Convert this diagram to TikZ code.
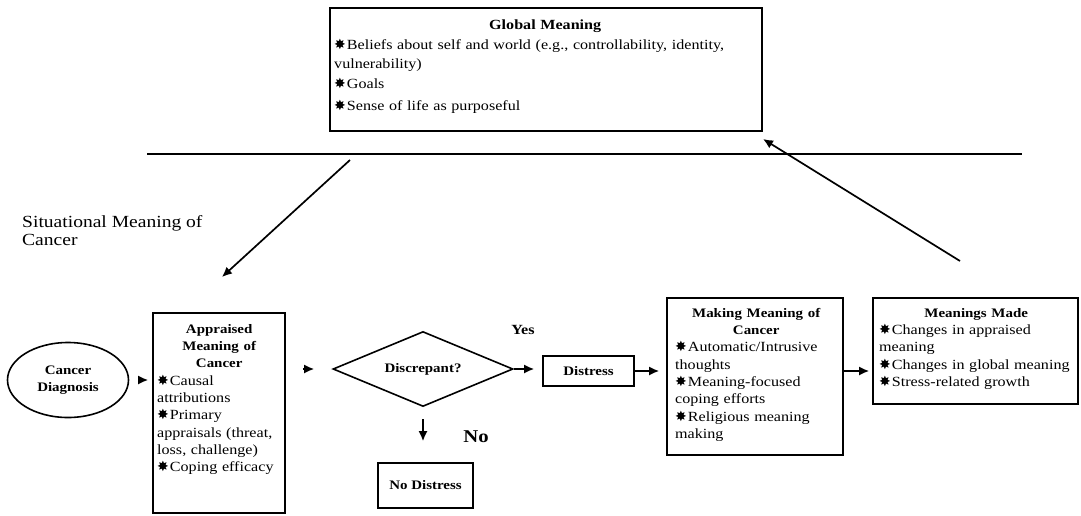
\documentclass[tikz,border=0pt]{standalone}
\usepackage{fontspec}
\setmainfont{Liberation Serif}[FakeStretch=1.15]
\newfontfamily\symfont{DejaVu Sans}
\usetikzlibrary{shapes.geometric,arrows.meta}
\newcommand\starbul{{\symfont\fontsize{14}{14}\selectfont ✸}\kern1pt}
\begin{document}
\begin{tikzpicture}[x=1pt,y=-1pt,
  font=\fontsize{14}{17.3}\selectfont,
  box/.style={draw, line width=1.6pt, inner sep=0pt},
  arr/.style={-{Latex[length=10pt,width=9pt]}, line width=1.7pt},
  txt/.style={inner sep=0pt, align=left},
  ttl/.style={font=\bfseries\fontsize{13}{15}\selectfont}]
\useasboundingbox (0,0) rectangle (1081,515);

% global meaning
\node[box, minimum width=432pt, minimum height=123pt] (glob) at (546,69.5) {};
\node[txt, text width=422pt, anchor=north west, font=\fontsize{14}{19.5}\selectfont] (globtxt) at (334,20)
 {{\centering\bfseries Global Meaning\par}\starbul Beliefs about self and world (e.g., controllability, identity,\\vulnerability)\\\starbul Goals\\[3pt]\starbul Sense of life as purposeful};

% separator line
\coordinate (hl1) at (147,154);
\coordinate (hl2) at (1022,154);
\draw[line width=1.6pt] (hl1) -- (hl2);

\node[txt, anchor=north west, font=\fontsize{17}{18}\selectfont] (sit) at (22,215) {Situational Meaning of\\Cancer};

% lower row
\node[draw, ellipse, line width=1.6pt, minimum width=121pt, minimum height=75pt, inner sep=0pt, align=center, font=\bfseries\fontsize{13}{17}\selectfont] (diag) at (68,380) {Cancer\\Diagnosis};

\node[box, minimum width=132pt, minimum height=200pt] (appr) at (219,413) {};
\node[txt, text width=124pt, anchor=north west] (apprtxt) at (157,324)
 {{\centering\bfseries\fontsize{13}{17.3}\selectfont Appraised\\Meaning of\\Cancer\par}\starbul Causal\\attributions\\\starbul Primary\\appraisals (threat,\\loss, challenge)\\\starbul Coping efficacy};

\node[draw, diamond, line width=1.6pt, minimum width=180pt, minimum height=75pt, aspect=2.4, inner sep=0pt, ttl] (disc) at (423,369) {Discrepant?};

\node[box, minimum width=91pt, minimum height=30pt, ttl] (dist) at (588.5,371) {Distress};
\node[box, minimum width=95pt, minimum height=45pt, ttl] (nodist) at (425.5,485.5) {No Distress};

\node[font=\bfseries\fontsize{14}{16}\selectfont] (yes) at (523,330) {Yes};
\node[font=\bfseries\fontsize{18}{20}\selectfont] (no) at (476,437) {No};

\node[box, minimum width=176pt, minimum height=157pt] (make) at (755,376.5) {};
\node[txt, text width=162pt, anchor=north west] (maketxt) at (675,308)
 {{\centering\bfseries\fontsize{13}{17.3}\selectfont Making Meaning of\\Cancer\par}\starbul Automatic/Intrusive\\thoughts\\\starbul Meaning-focused\\coping efforts\\\starbul Religious meaning\\making};

\node[box, minimum width=205pt, minimum height=106pt] (made) at (975.5,351) {};
\node[txt, text width=194pt, anchor=north west] (madetxt) at (879,308)
 {{\centering\bfseries\fontsize{13}{17.3}\selectfont Meanings Made\par}\starbul Changes in appraised\\meaning\\\starbul Changes in global meaning\\\starbul Stress-related growth};

% arrows
\coordinate (a1s) at (350,160);
\coordinate (a1e) at (222,277);
\draw[arr] (a1s) -- (a1e);
\coordinate (a2s) at (960,261);
\coordinate (a2e) at (763,139);
\draw[arr] (a2s) -- (a2e);

\draw[arr, shorten <=9pt, shorten >=4pt] (diag.east) -- (diag.east -| appr.west);
\draw[arr, shorten <=17pt, shorten >=18pt] (appr.east |- disc.west) -- (disc.west);
\draw[arr, shorten >=8pt] (disc.east) -- (disc.east -| dist.west);
\draw[arr, shorten >=7pt] (dist.east) -- (dist.east -| make.west);
\draw[arr, shorten >=3pt] (make.east |- dist.east) -- (made.west |- dist.east);
\draw[arr, shorten <=12pt, shorten >=21pt] (disc.south) -- (disc.south |- nodist.north);
\end{tikzpicture}
\end{document}
